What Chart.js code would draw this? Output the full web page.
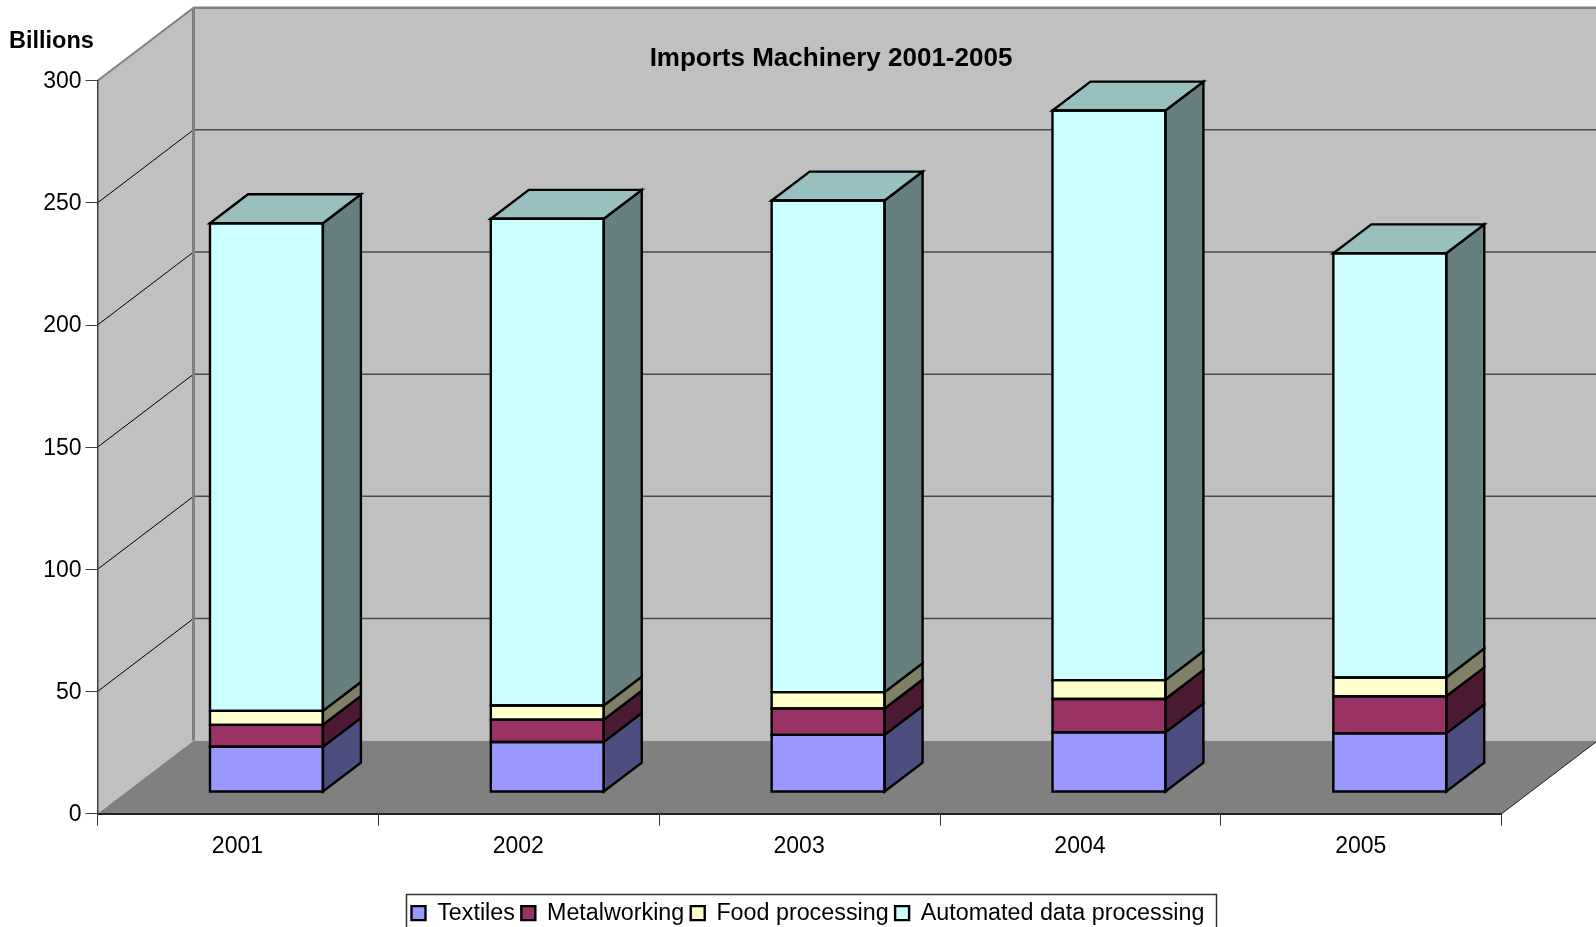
<!DOCTYPE html>
<html>
<head>
<meta charset="utf-8">
<title>Imports Machinery 2001-2005</title>
<script src="https://cdn.jsdelivr.net/npm/chart.js@4/dist/chart.umd.min.js"></script>
<style>
  html, body { margin: 0; padding: 0; background: #fff; overflow: hidden; }
  canvas { display: block; }
</style>
</head>
<body>
<canvas id="chart" width="1596" height="927"></canvas>
<script>
var years = ["2001", "2002", "2003", "2004", "2005"];
var textiles = [18.5, 20.5, 23.4, 24.4, 24.0];
var metalworking = [9.0, 9.1, 10.8, 13.7, 15.2];
var foodProcessing = [5.7, 5.8, 6.7, 7.7, 7.7];
var automatedData = [199.6, 199.2, 201.2, 233.1, 173.6];
var yTicks = [0, 50, 100, 150, 200, 250, 300];

var fontName = "'Liberation Sans', Arial, sans-serif";

// how far the back wall sits from the front of the box, in pixels
var depthX = 96;
var depthY = 73;
// bars stand in this slice of the depth
var barNear = 0.297;
var barFar = 0.693;

// front, side, top colours
function series(label, data, front, side, top) {
  return { label: label, data: data, backgroundColor: front, sideColor: side, topColor: top, borderWidth: 0 };
}

function poly(ctx, pts, fill, stroke, width) {
  ctx.beginPath();
  ctx.moveTo(pts[0][0], pts[0][1]);
  for (var i = 1; i < pts.length; i++) ctx.lineTo(pts[i][0], pts[i][1]);
  ctx.closePath();
  if (fill) { ctx.fillStyle = fill; ctx.fill(); }
  if (stroke) { ctx.strokeStyle = stroke; ctx.lineWidth = width; ctx.stroke(); }
}

function line(ctx, x1, y1, x2, y2, color, width) {
  ctx.beginPath();
  ctx.moveTo(x1, y1);
  ctx.lineTo(x2, y2);
  ctx.strokeStyle = color;
  ctx.lineWidth = width;
  ctx.stroke();
}

var box3d = {
  id: "box3d",

  // move the legend and title to where the reference has them
  afterLayout: function (chart) {
    var lg = chart.legend;
    lg.left = 405;
    lg.right = 1596;
    lg.top = 895;
    chart.titleBlock.left = 66;
    chart.titleBlock.right = 1596;
    chart.titleBlock.top = 1;
  },

  // front faces sit forward of the back wall, so shift the bars off the axis plane
  afterDatasetsUpdate: function (chart) {
    chart.data.datasets.forEach(function (ds, i) {
      chart.getDatasetMeta(i).data.forEach(function (bar) {
        bar.x += depthX * barNear;
        bar.y -= depthY * barNear;
        bar.base -= depthY * barNear;
      });
    });
  },

  // walls, floor and the gridlines that run over them
  beforeDraw: function (chart) {
    var ctx = chart.ctx;
    var y = chart.scales.y;
    var a = chart.chartArea;
    var zero = y.getPixelForValue(0);
    var top = y.getPixelForValue(300);
    var bx = a.left + depthX;

    ctx.save();
    poly(ctx, [[bx, top - depthY], [a.right + depthX, top - depthY], [a.right + depthX, zero - depthY], [bx, zero - depthY]], "#c0c0c0");
    poly(ctx, [[a.left, top], [bx, top - depthY], [bx, zero - depthY], [a.left, zero]], "#c0c0c0");
    poly(ctx, [[a.left, zero], [bx, zero - depthY], [a.right + depthX, zero - depthY], [a.right, zero]], "#808080");

    yTicks.forEach(function (v) {
      if (v === 0 || v === 300) return;
      var p = y.getPixelForValue(v);
      line(ctx, a.left, p, bx, p - depthY, "#000000", 1);
      line(ctx, bx, p - depthY, a.right + depthX, p - depthY, "#4a4a4a", 1.5);
    });

    line(ctx, a.left, top, bx, top - depthY, "#808080", 2);
    line(ctx, bx, top - depthY, a.right + depthX, top - depthY, "#808080", 2.5);
    line(ctx, bx, top - depthY, bx, zero - depthY, "#808080", 3);
    line(ctx, a.right, zero, a.right + depthX, zero - depthY, "#222222", 1);
    ctx.restore();
  },

  // side and top faces, then outlines on the edges
  afterDatasetsDraw: function (chart) {
    var ctx = chart.ctx;
    var dx = depthX * (barFar - barNear);
    var dy = depthY * (barFar - barNear);
    var last = chart.data.datasets.length - 1;

    ctx.save();
    ctx.lineJoin = "miter";
    chart.data.datasets.forEach(function (ds, i) {
      chart.getDatasetMeta(i).data.forEach(function (bar) {
        var l = bar.x - bar.width / 2;
        var r = bar.x + bar.width / 2;
        poly(ctx, [[r, bar.y], [r + dx, bar.y - dy], [r + dx, bar.base - dy], [r, bar.base]], ds.sideColor, "#000", 2.4);
        if (i === last) {
          poly(ctx, [[l, bar.y], [l + dx, bar.y - dy], [r + dx, bar.y - dy], [r, bar.y]], ds.topColor, "#000", 2.4);
        }
        poly(ctx, [[l, bar.y], [r, bar.y], [r, bar.base], [l, bar.base]], null, "#000", 2.4);
      });
    });
    ctx.restore();
  },

  afterDraw: function (chart) {
    var ctx = chart.ctx;
    ctx.save();
    // legend frame runs off the bottom of the page
    ctx.strokeStyle = "#333333";
    ctx.lineWidth = 1.5;
    ctx.strokeRect(406.5, 894.5, 810, 100);
    ctx.fillStyle = "#000";
    ctx.font = "bold 23.5px " + fontName;
    ctx.textBaseline = "middle";
    ctx.fillText("Billions", 9, 42);
    ctx.restore();
  }
};

new Chart(document.getElementById("chart"), {
  type: "bar",
  plugins: [box3d],
  data: {
    labels: years,
    datasets: [
      series("Textiles", textiles, "#9999ff", "#4d4d80", "#7a7acc"),
      series("Metalworking", metalworking, "#993366", "#4d1a33", "#7a2952"),
      series("Food processing", foodProcessing, "#ffffcc", "#808066", "#bfbf99"),
      series("Automated data processing", automatedData, "#ccffff", "#668080", "#99bfbf")
    ]
  },
  options: {
    responsive: false,
    animation: false,
    events: [],
    layout: { padding: { left: 0, right: 94.3, top: 0, bottom: 0 } },
    datasets: { bar: { categoryPercentage: 1, barPercentage: 0.402 } },
    scales: {
      x: {
        stacked: true,
        afterFit: function (s) { s.height = 927 - 813.7 - s.chart.legend.height; },
        grid: { drawOnChartArea: false, tickLength: 12, tickColor: "#333333", offset: true },
        border: { color: "#222222", width: 2 },
        ticks: { color: "#000", font: { family: fontName, size: 23 }, padding: 7, maxRotation: 0, labelOffset: -0.5 }
      },
      y: {
        stacked: true,
        min: 0,
        max: 300,
        afterFit: function (s) { s.width = 97.5; },
        afterBuildTicks: function (s) {
          s.ticks = yTicks.map(function (v) { return { value: v }; });
        },
        grid: { drawOnChartArea: false, tickLength: 12, tickColor: "#404040" },
        border: { color: "#404040", width: 1.5 },
        ticks: { color: "#000", font: { family: fontName, size: 23 }, padding: 4, labelOffset: 1 }
      }
    },
    plugins: {
      tooltip: { enabled: false },
      title: {
        display: true,
        text: "Imports Machinery 2001-2005",
        color: "#000",
        font: { family: fontName, size: 26, weight: "bold", lineHeight: 1.2 },
        padding: { top: 42, bottom: 7.5 }
      },
      legend: {
        position: "bottom",
        align: "start",
        labels: {
          color: "#000",
          font: { family: fontName, size: 23.3 },
          boxWidth: 14,
          boxHeight: 14,
          padding: 6.5,
          generateLabels: function (chart) {
            return chart.data.datasets.map(function (ds, i) {
              return { text: ds.label, fillStyle: ds.backgroundColor, strokeStyle: "#000", lineWidth: 2.4, datasetIndex: i };
            });
          }
        }
      }
    }
  }
});
</script>
</body>
</html>
